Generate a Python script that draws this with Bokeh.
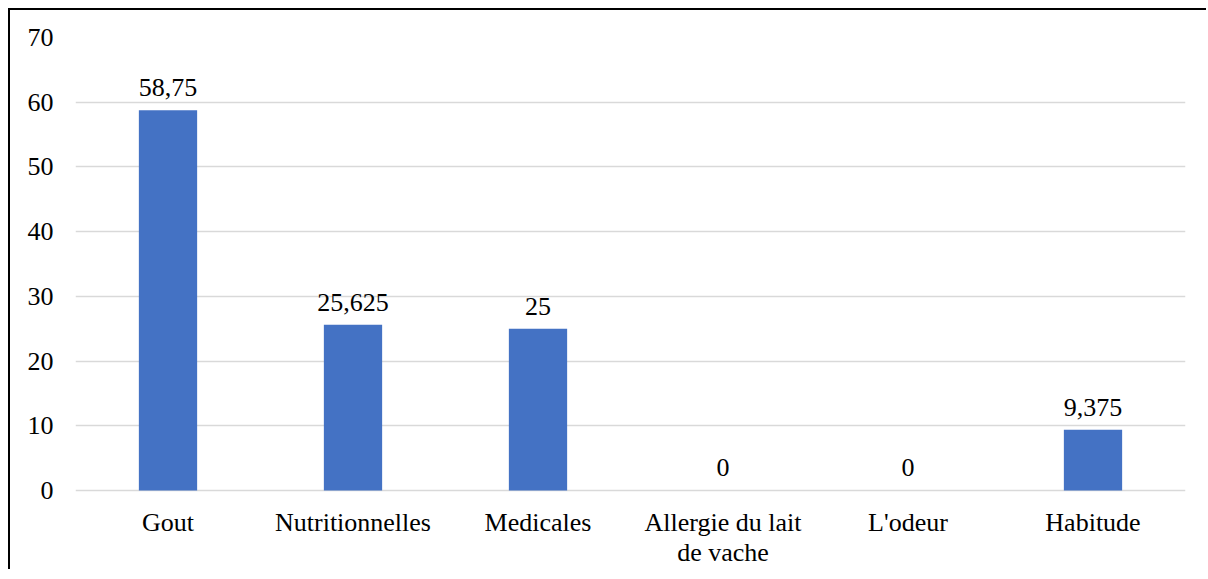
from bokeh.plotting import figure
from bokeh.models import ColumnDataSource, FactorRange, LabelSet, FixedTicker, Range1d
from bokeh.embed import file_html
from bokeh.resources import INLINE
from bokeh.core.properties import value

categories = ["Gout", "Nutritionnelles", "Medicales", "Allergie du lait de vache", "L'odeur", "Habitude"]
label_line1 = ["Gout", "Nutritionnelles", "Medicales", "Allergie du lait", "L'odeur", "Habitude"]
label_line2 = ["", "", "", "de vache", "", ""]
values = [58.75, 25.625, 25, 0, 0, 9.375]
value_labels = ["58,75", "25,625", "25", "0", "0", "9,375"]
y_ticks = [0, 10, 20, 30, 40, 50, 60, 70]

FONT = "Liberation Serif"
FS = "26px"

src = ColumnDataSource(dict(cat=categories, val=values, lab=value_labels,
                            zero=[0] * len(categories), l1=label_line1, l2=label_line2))

# frame extends below zero so the category labels are drawn inside it
p = figure(x_range=FactorRange(*categories), y_range=Range1d(-12.52, 70),
           width=1198, height=561, output_backend="svg", toolbar_location=None,
           min_border_left=65, min_border_right=23, min_border_top=27, min_border_bottom=0)
p.styles = {"border-left": "2px solid black", "border-top": "2px solid black",
            "margin-left": "8px", "margin-top": "8px"}

p.vbar(x="cat", top="val", width=0.315, source=src, color="#4472C4", line_color=None)

labels = LabelSet(x="cat", y="val", text="lab", source=src, text_align="center",
                  text_baseline="bottom", y_offset=14, text_font=value(FONT),
                  text_font_size=FS, text_color="black")
p.add_layout(labels)

for col, off in (("l1", -18), ("l2", -48)):
    p.add_layout(LabelSet(x="cat", y="zero", text=col, source=src, text_align="center",
                          text_baseline="top", y_offset=off, text_font=value(FONT),
                          text_font_size=FS, text_color="black"))

p.outline_line_color = None
p.xgrid.grid_line_color = None
p.ygrid.grid_line_color = "#d9d9d9"
p.ygrid.grid_line_width = 1.5

p.yaxis.ticker = FixedTicker(ticks=y_ticks)
p.yaxis.axis_line_color = None
p.yaxis.major_tick_line_color = None
p.yaxis.minor_tick_line_color = None
p.yaxis.major_label_text_font = FONT
p.yaxis.major_label_text_font_size = FS
p.yaxis.major_label_text_color = "black"
p.yaxis.major_label_standoff = 16

p.xaxis.visible = False

p.x_range.range_padding = 0

open("out.html", "w").write(file_html(p, INLINE))
